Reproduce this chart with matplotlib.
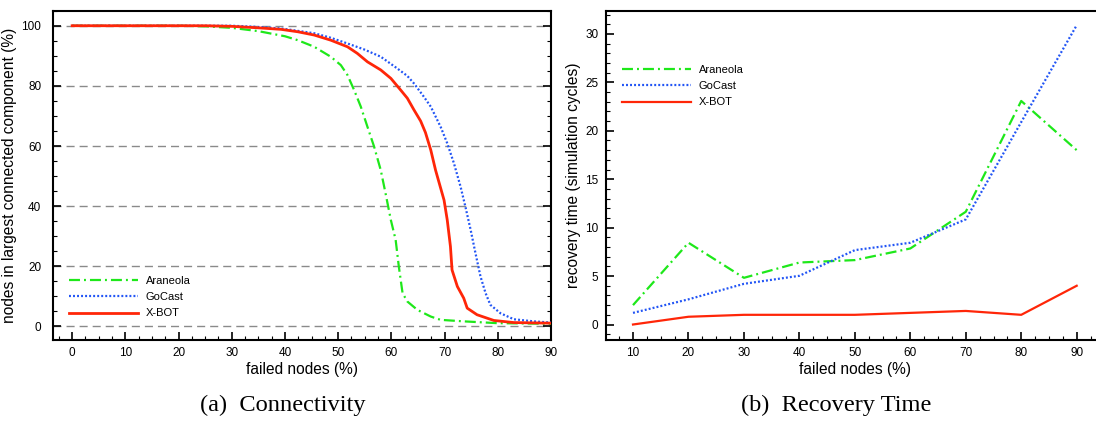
import matplotlib
matplotlib.use("Agg")
import matplotlib.pyplot as plt
from matplotlib.ticker import MultipleLocator

plt.rcParams['font.family'] = ['Liberation Sans', 'DejaVu Sans']
plt.rcParams['lines.scale_dashes'] = False

# ---------------- data: (a) Connectivity ----------------
aran_x = [0, 10, 20, 25, 30, 35, 40, 42.4, 45.5, 48.6, 50.5, 51.75, 53, 54.25, 55.5, 56.75,
          58, 58.9, 59.9, 60.8, 61.4, 62.1, 63, 64.9, 67.4, 69.25, 73.6, 79.9, 90]
aran_y = [100, 100, 100, 99.8, 99.3, 98.2, 96.5, 95.2, 93.0, 89.7, 86.9, 83.6, 78.6, 73.1, 66.4, 59.8,
          52.0, 44.3, 35.4, 28.8, 19.9, 11.1, 8.3, 5.5, 3.3, 2.2, 1.7, 1.1, 0.9]

gocast_x = [0, 10, 20, 30, 35, 39.25, 42.4, 45.5, 48.6, 51.75, 54.9, 58, 61.1, 63, 64.25, 66.1, 67.4,
            69.25, 70.5, 71.75, 73, 73.9, 74.9, 75.8, 76.75, 77.7, 78.6, 80.5, 83, 86.75, 90]
gocast_y = [100, 100, 100, 100, 99.6, 99.1, 98.3, 97.5, 96.0, 94.1, 92.1, 89.7, 85.8, 83.3, 80.8, 76.4, 73.1,
            66.4, 60.9, 54.3, 46.5, 39.9, 32.1, 24.4, 16.6, 11.1, 7.2, 4.4, 2.4, 1.7, 1.3]

xbot_x = [0, 10, 20, 25, 30, 35, 39.25, 42.4, 45.5, 48.6, 51.75, 53.6, 55.5, 58, 59.9, 61.75, 63,
          64.25, 65.5, 66.4, 67.4, 68.3, 69.9, 70.5, 71.1, 71.4, 72.4, 73.6, 74.25, 76.1,
          79.25, 83, 90]
xbot_y = [100, 100, 100, 100, 99.8, 99.3, 98.8, 98.0, 96.9, 95.2, 93.0, 90.8, 88.0, 85.3, 82.5, 78.6, 75.9,
          72.0, 68.3, 64.5, 58.7, 52.0, 42.0, 35.4, 26.6, 18.8, 13.3, 9.4, 6.1, 3.9,
          2.0, 1.3, 1.1]

# ---------------- data: (b) Recovery Time ----------------
fail_pct = [10, 20, 30, 40, 50, 60, 70, 80, 90]
rec_aran = [2.0, 8.44, 4.82, 6.4, 6.65, 7.85, 11.64, 23.08, 18.0]
rec_gocast = [1.2, 2.6, 4.2, 5.03, 7.68, 8.44, 10.85, 20.9, 30.9]
rec_xbot = [0.0, 0.8, 1.0, 1.0, 1.0, 1.2, 1.4, 1.0, 4.0]

series_names = ["Araneola", "GoCast", "X-BOT"]

GREEN = "#1ee81a"
BLUE = "#2255f5"
RED = "#ff2608"
dashdot = (0, (7.9, 2.9, 1.4, 2.9))
dotted = (0, (1.4, 1.5))

W, H = 1096, 421
fig = plt.figure(figsize=(W / 100, H / 100), dpi=100)

def px_axes(l, t, r, b):
    return fig.add_axes([l / W, 1 - b / H, (r - l) / W, (b - t) / H])

tick_fs = 8.5
label_fs = 11.2
leg_fs = 8.0

leg_kw = dict(frameon=False, fontsize=leg_fs, borderpad=0, borderaxespad=0, handlelength=6.2,
              handletextpad=0.72, labelspacing=0.56)

# ---------- left panel ----------
ax1 = px_axes(53, 10.7, 551, 340)
for y in [0, 20, 40, 60, 80, 100]:
    ax1.axhline(y, color="#8a8a8a", lw=1.0, ls=(0, (5.8, 3.6)), zorder=1)
ax1.plot(aran_x, aran_y, color=GREEN, lw=1.6, ls=dashdot, label=series_names[0], zorder=3)
ax1.plot(gocast_x, gocast_y, color=BLUE, lw=1.6, ls=dotted, label=series_names[1], zorder=3)
ax1.plot(xbot_x, xbot_y, color=RED, lw=2.0, label=series_names[2], zorder=4)
ax1.set_xlim(-3.6, 90)
ax1.set_ylim(-4.5, 105)
ax1.xaxis.set_major_locator(MultipleLocator(10))
ax1.xaxis.set_minor_locator(MultipleLocator(2.5))
ax1.yaxis.set_major_locator(MultipleLocator(20))
ax1.yaxis.set_minor_locator(MultipleLocator(5))
ax1.tick_params(which="both", direction="in", left=True, right=True, bottom=True, top=False,
                labelsize=tick_fs)
ax1.tick_params(which="major", length=6, width=1.2)
ax1.tick_params(which="minor", length=3, width=0.8)
ax1.tick_params(axis="y", which="both", pad=8.5)
ax1.tick_params(axis="x", which="both", pad=5)
for s in ax1.spines.values():
    s.set_linewidth(1.5)
ax1.set_xlabel("failed nodes (%)", fontsize=label_fs, labelpad=2)
ax1.set_ylabel("nodes in largest connected component (%)", fontsize=label_fs, labelpad=3)
ax1.legend(loc="upper left", bbox_to_anchor=(69 / W, 1 - 276 / H), bbox_transform=fig.transFigure,
           **leg_kw)

# ---------- right panel ----------
ax2 = px_axes(606, 10.7, 1103.7, 340)
ax2.plot(fail_pct, rec_aran, color=GREEN, lw=1.6, ls=dashdot, label=series_names[0], zorder=3)
ax2.plot(fail_pct, rec_gocast, color=BLUE, lw=1.6, ls=dotted, label=series_names[1], zorder=3)
ax2.plot(fail_pct, rec_xbot, color=RED, lw=1.6, label=series_names[2], zorder=4)
ax2.set_xlim(5.13, 94.87)
ax2.set_ylim(-1.6, 32.4)
ax2.xaxis.set_major_locator(MultipleLocator(10))
ax2.xaxis.set_minor_locator(MultipleLocator(2.5))
ax2.yaxis.set_major_locator(MultipleLocator(5))
ax2.yaxis.set_minor_locator(MultipleLocator(1))
ax2.tick_params(which="both", direction="in", left=True, right=False, bottom=True, top=False,
                labelsize=tick_fs)
ax2.tick_params(which="major", length=6, width=1.2)
ax2.tick_params(which="minor", length=3, width=0.8)
ax2.tick_params(axis="y", which="both", pad=5.5)
ax2.tick_params(axis="x", which="both", pad=5)
for s in ax2.spines.values():
    s.set_linewidth(1.5)
ax2.spines["right"].set_visible(False)
ax2.set_xlabel("failed nodes (%)", fontsize=label_fs, labelpad=2)
ax2.set_ylabel("recovery time (simulation cycles)", fontsize=label_fs, labelpad=3)
ax2.legend(loc="upper left", bbox_to_anchor=(621.7 / W, 1 - 65 / H), bbox_transform=fig.transFigure,
           **leg_kw)

# ---------- captions ----------
cap_font = dict(family=["Liberation Serif", "DejaVu Serif"], fontsize=17.6, ha="center", va="center")
fig.text(282.5 / W, 1 - 405 / H, "(a)  Connectivity", **cap_font)
fig.text(836 / W, 1 - 405 / H, "(b)  Recovery Time", **cap_font)

fig.savefig("out.png", dpi=100)
